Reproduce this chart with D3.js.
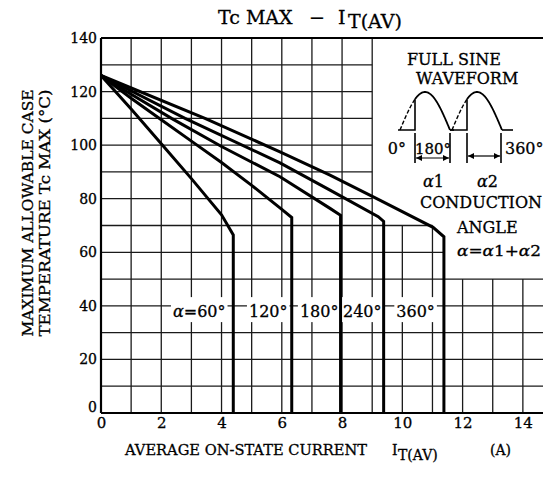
<!DOCTYPE html>
<html><head><meta charset="utf-8">
<script src="https://cdn.jsdelivr.net/npm/d3@7"></script>
<style>
body{margin:0;background:#fff}
svg{display:block}
text{font-family:"DejaVu Serif",serif;fill:#000;stroke:#000;stroke-width:0.3px}
</style>
</head><body>
<svg id="c" width="543" height="481"></svg>
<script>
// ---- data (A, °C) ----
const conductionAngles = ["60°", "120°", "180°", "240°", "360°"];
const curve60  = [[0,126],[1,113.5],[2,100.5],[3,87.5],[4,74],[4.39,66.5],[4.39,0]];
const curve120 = [[0,126],[1,117.5],[2,109.5],[3,101.5],[4,93.5],[5,85],[6,76],[6.33,73],[6.33,0]];
const curve180 = [[0,126],[1,119],[2.34,110],[4,99.5],[5.94,88.2],[7.6,76.4],[7.95,73.8],[7.95,0]];
const curve240 = [[0,126],[2.79,110],[5.94,93.4],[7.6,83.2],[9.2,73.3],[9.38,71.5],[9.38,0]];
const curve360 = [[0,126],[3.45,110],[5.94,97.5],[7.6,88.8],[9.25,79.5],[11.02,69.3],[11.38,65.8],[11.38,0]];
const xTickValues = [0, 2, 4, 6, 8, 10, 12, 14];
const yTickValues = [0, 20, 40, 60, 80, 100, 120, 140];
const xGridValues = [1,2,3,4,5,6,7,8,9,10,11,12,13,14];
const yGridValues = [10,20,30,40,50,60,70,80,90,100,110,120,130];

// ---- layout ----
const curves = [curve60, curve120, curve180, curve240, curve360];
const labelCenters = [3.26, 5.55, 7.24, 8.67, 10.44]; // A, label centre
const labelLevel = 35.8; // °C, label baseline

const svg = d3.select("#c");
const x = d3.scaleLinear().domain([0, 15]).range([101, 553]);
const y = d3.scaleLinear().domain([0, 140]).range([413, 38]);

// grid
const vTop = v => v <= 9 ? 140 : (v <= 11 ? 70 : 50);
const hRight = v => v >= 80 ? 9 : (v === 70 ? 11 : (v === 60 ? 11.38 : 15));
const grid = svg.append("g").attr("stroke", "#1a1a1a").attr("stroke-width", 1.3);
grid.selectAll("line.v").data(xGridValues).join("line").attr("class","v")
  .attr("x1", d => x(d)).attr("x2", d => x(d))
  .attr("y1", y(0)).attr("y2", d => y(vTop(d)));
grid.selectAll("line.h").data(yGridValues).join("line").attr("class","h")
  .attr("x1", x(0)).attr("x2", d => x(hRight(d)))
  .attr("y1", d => y(d)).attr("y2", d => y(d));

// curve labels (white boxes cut the grid)
const labG = svg.append("g");
conductionAngles.forEach((a, i) => {
  const t = labG.append("text")
    .attr("x", x(labelCenters[i])).attr("y", y(labelLevel))
    .attr("text-anchor", "middle").attr("font-size", 16);
  if (i === 0) {
    t.append("tspan").attr("font-style", "italic").text("α");
    t.append("tspan").text("=" + a);
  } else t.text(a);
  const b = t.node().getBBox();
  labG.insert("rect", "text")
    .attr("x", b.x - 2).attr("y", y(labelLevel) - 20)
    .attr("width", b.width + 4).attr("height", 25)
    .attr("fill", "#fff");
});

// axes
const ax = svg.append("g").attr("transform", `translate(0,${y(0)})`)
  .call(d3.axisBottom(x).tickValues(xTickValues).tickSize(0).tickPadding(4).tickFormat(d3.format("d")));
ax.select(".domain").remove();
ax.selectAll("text").attr("font-size", 15).attr("font-family", "DejaVu Serif").attr("fill", "#000");
const ay = svg.append("g").attr("transform", `translate(${x(0)},0)`)
  .call(d3.axisLeft(y).tickValues(yTickValues).tickSize(0).tickPadding(4).tickFormat(d3.format("d")));
ay.select(".domain").remove();
ay.selectAll("text").attr("font-size", 14).attr("font-family", "DejaVu Serif").attr("fill", "#000");
ay.selectAll(".tick").filter(d => d === 0).select("text").attr("dy", "-0.1em");

svg.append("g").attr("stroke", "#000").attr("stroke-width", 2.2).call(g => {
  g.append("line").attr("x1", x(0)).attr("x2", x(0)).attr("y1", y(0)).attr("y2", y(140));
  g.append("line").attr("x1", x(0)).attr("x2", x(15)).attr("y1", y(0)).attr("y2", y(0));
  g.append("line").attr("x1", x(0)).attr("x2", x(15)).attr("y1", y(140)).attr("y2", y(140));
});

// curves
const line = d3.line().x(d => x(d[0])).y(d => y(d[1]));
svg.append("g").selectAll("path").data(curves).join("path")
  .attr("d", line).attr("fill", "none").attr("stroke", "#000")
  .attr("stroke-width", 3).attr("stroke-linejoin", "miter");

// title
const title = svg.append("text").attr("y", 24).attr("font-size", 19);
title.append("tspan").attr("x", 218).text("Tc MAX");
title.append("tspan").attr("x", 309).text("−");
title.append("tspan").attr("x", 338).text("I");
title.append("tspan").attr("x", 348).attr("dy", 4).text("T(AV)");

// x title
const xt = svg.append("text").attr("y", 455).attr("font-size", 14);
xt.append("tspan").attr("x", 125).attr("textLength", 242).attr("lengthAdjust","spacingAndGlyphs").text("AVERAGE ON-STATE CURRENT");
xt.append("tspan").attr("x", 392).text("I");
xt.append("tspan").attr("x", 398).attr("dy", 5).text("T(AV)");
xt.append("tspan").attr("x", 490).attr("dy", -5).text("(A)");

// y title
svg.append("text").attr("transform", "translate(33,213) rotate(-90)")
  .attr("text-anchor", "middle").attr("font-size", 14)
  .attr("textLength", 247).attr("lengthAdjust", "spacingAndGlyphs")
  .text("MAXIMUM ALLOWABLE CASE");
svg.append("text").attr("transform", "translate(50,213) rotate(-90)")
  .attr("text-anchor", "middle").attr("font-size", 14)
  .attr("textLength", 247).attr("lengthAdjust", "spacingAndGlyphs")
  .text("TEMPERATURE  Tc MAX  (°C)");

// inset: full sine waveform
const ins = svg.append("g").attr("font-size", 16);
ins.append("text").attr("x", 407).attr("y", 65).text("FULL SINE");
ins.append("text").attr("x", 416).attr("y", 84).text("WAVEFORM");

const W = 50, A = 38, base = 130;
const humps = [{s: 400, f: 15}, {s: 452, f: 15}];
const sineAt = (h, t) => [h.s + t, base - A * Math.sin(Math.PI * t / W)];
const pl = d3.line();
humps.forEach(h => {
  const dashed = d3.range(0, h.f + 0.01, 0.5).map(t => sineAt(h, t));
  const solid = d3.range(h.f, W + 0.01, 0.5).map(t => sineAt(h, t));
  ins.append("path").attr("d", pl(dashed)).attr("fill","none").attr("stroke","#000")
    .attr("stroke-width", 1.4).attr("stroke-dasharray", "4,2");
  ins.append("path").attr("d", pl([[h.s - 2, base], [h.s + h.f, base], sineAt(h, h.f)]))
    .attr("fill","none").attr("stroke","#000").attr("stroke-width", 1.6);
  ins.append("path").attr("d", pl(solid)).attr("fill","none").attr("stroke","#000").attr("stroke-width", 1.8);
});
ins.append("line").attr("x1", 450).attr("x2", 454).attr("y1", base).attr("y2", base).attr("stroke","#000").attr("stroke-width",1.6);
ins.append("line").attr("x1", 502).attr("x2", 513).attr("y1", base).attr("y2", base).attr("stroke","#000").attr("stroke-width",1.6);

const defs = svg.append("defs");
defs.append("marker").attr("id","ah").attr("viewBox","0 0 10 10").attr("refX",10).attr("refY",5)
  .attr("markerWidth",7).attr("markerHeight",5).attr("orient","auto-start-reverse")
  .append("path").attr("d","M0,0L10,5L0,10Z").attr("fill","#000");
[415, 450, 467, 501].forEach(px => ins.append("line").attr("x1", px).attr("x2", px)
  .attr("y1", 133).attr("y2", 163).attr("stroke","#000").attr("stroke-width",1.6));
[[415, 450, 158], [467, 501, 156]].forEach(([a, b, yy]) => ins.append("line")
  .attr("x1", a + 1).attr("x2", b - 1).attr("y1", yy).attr("y2", yy)
  .attr("stroke","#000").attr("stroke-width",1.2)
  .attr("marker-start","url(#ah)").attr("marker-end","url(#ah)"));
ins.append("text").attr("x", 406).attr("y", 154).attr("text-anchor","end").text("0°");
ins.append("text").attr("x", 433).attr("y", 154).attr("text-anchor","middle").attr("font-size",15).text("180°");
ins.append("text").attr("x", 505).attr("y", 154).text("360°");
const a1 = ins.append("text").attr("x", 423).attr("y", 187);
a1.append("tspan").attr("font-style","italic").text("α"); a1.append("tspan").text("1");
const a2 = ins.append("text").attr("x", 477).attr("y", 187);
a2.append("tspan").attr("font-style","italic").text("α"); a2.append("tspan").text("2");
ins.append("text").attr("x", 420).attr("y", 208).text("CONDUCTION");
ins.append("text").attr("x", 457).attr("y", 233).text("ANGLE");
const eq = ins.append("text").attr("x", 457).attr("y", 256).attr("font-size", 15)
  .attr("textLength", 84).attr("lengthAdjust", "spacingAndGlyphs");
eq.append("tspan").attr("font-style","italic").text("α");
eq.append("tspan").text("=");
eq.append("tspan").attr("font-style","italic").text("α");
eq.append("tspan").text("1+");
eq.append("tspan").attr("font-style","italic").text("α");
eq.append("tspan").text("2");
</script>
</body></html>
